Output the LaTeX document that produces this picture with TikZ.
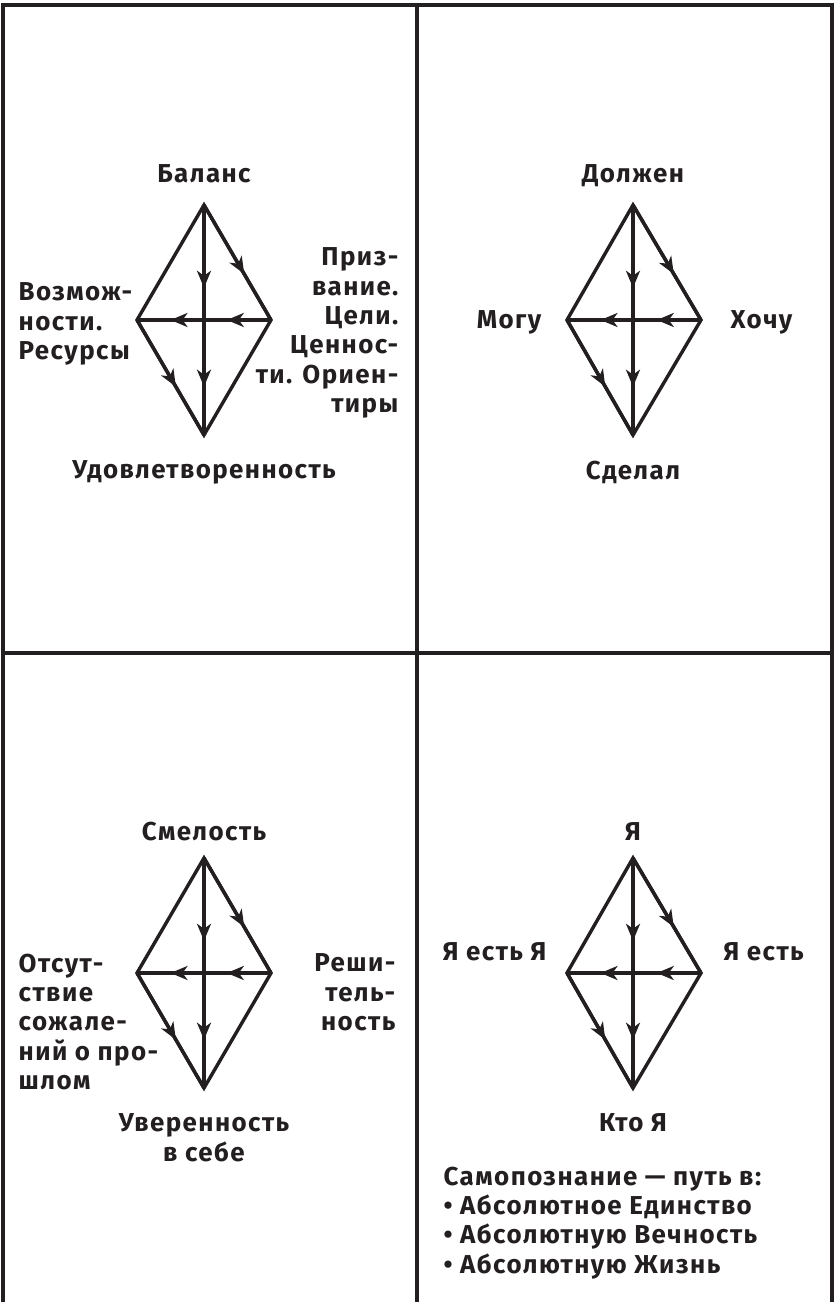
\documentclass[tikz,border=0pt]{standalone}
\usepackage{fontspec}
\setmainfont{Fira Sans}[LetterSpace=5.5]
\usetikzlibrary{arrows.meta, positioning, decorations.markings}
\definecolor{ink}{HTML}{231F20}

\begin{document}
\begin{tikzpicture}[x=1bp, y=-1bp, line width=3.4bp, color=ink,
  lbl/.style={font=\bfseries\fontsize{26}{29.5}\selectfont, inner sep=0pt, text depth=0pt},
  blk/.style={font=\bfseries\fontsize{26}{29.5}\selectfont, inner sep=0pt},
  midarr/.style={postaction={decorate, decoration={markings,
    mark=at position #1 with {\arrow{Stealth[length=17bp, width=14bp, inset=5bp]}}}}}]
\useasboundingbox (0,0) rectangle (835,1302);

% frame
\draw (3,1302) -- (3,5) -- (832,5) -- (832,1302);
\draw (417,5) -- (417,1302);
\draw (3,653) -- (832,653);

% corners of the four rhombs
\coordinate (a-t) at (204,205);
\coordinate (a-l) at (137,320);
\coordinate (a-r) at (271,320);
\coordinate (a-b) at (204,435);

\coordinate (b-t) at (633,205);
\coordinate (b-l) at (567,320);
\coordinate (b-r) at (701,320);
\coordinate (b-b) at (633,435);

\coordinate (c-t) at (204,858);
\coordinate (c-l) at (137,973);
\coordinate (c-r) at (271,973);
\coordinate (c-b) at (204,1088);

\coordinate (d-t) at (633,858);
\coordinate (d-l) at (567,973);
\coordinate (d-r) at (701,973);
\coordinate (d-b) at (633,1088);

\foreach \r in {a,b,c,d} {
  \draw (\r-t) -- (\r-r) -- (\r-b) -- (\r-l) -- cycle;
  \draw[midarr=0.6] (\r-t) -- (\r-r);
  \draw[midarr=0.58] (\r-l) -- (\r-b);
  \draw[midarr=0.36, midarr=0.79] (\r-t) -- (\r-b);
  \draw[midarr=0.33, midarr=0.75] (\r-r) -- (\r-l);
}

% top left
\node[lbl, above=21bp of a-t] (balans) {Баланс};
\node[lbl, below=24bp of a-b] (udovl) {Удовлетворенность};
\node[blk, align=left, anchor=north west] (vozm) at (17,281) {Возмож-\\ности.\\Ресурсы};
\node[blk, align=right, anchor=north east] (prizv) at (400,246) {Приз-\\вание.\\Цели.\\Ценнос-\\ти. Ориен-\\тиры};

% top right
\node[lbl, above=21bp of b-t] (dolzh) {Должен};
\node[lbl, below=24bp of b-b] (sdelal) {Сделал};
\node[lbl, left=24bp of b-l] (mogu) {Могу};
\node[lbl, right=28bp of b-r] (hochu) {Хочу};

% bottom left
\node[lbl, above=16bp of c-t] (smel) {Смелость};
\node[blk, align=center, below=24bp of c-b] (uver) {Уверенность\\в себе};
\node[blk, align=left, anchor=north west] (otsut) at (17,952) {Отсут-\\ствие\\сожале-\\ний о про-\\шлом};
\node[blk, align=right, anchor=north east] (resh) at (397,952) {Реши-\\тель-\\ность};

% bottom right
\node[lbl, above=16bp of d-t] (ya) {Я};
\node[lbl, above left=11bp and 19bp of d-l] (yaya) {Я есть Я};
\node[lbl, above right=11bp and 21bp of d-r] (yaest) {Я есть};
\node[lbl, below=24bp of d-b] (kto) {Кто Я};
\node[blk, align=left, anchor=north west] (samo) at (442,1165) {Самопознание — путь в:\\• Абсолютное Единство\\• Абсолютную Вечность\\• Абсолютную Жизнь};
\end{tikzpicture}
\end{document}
